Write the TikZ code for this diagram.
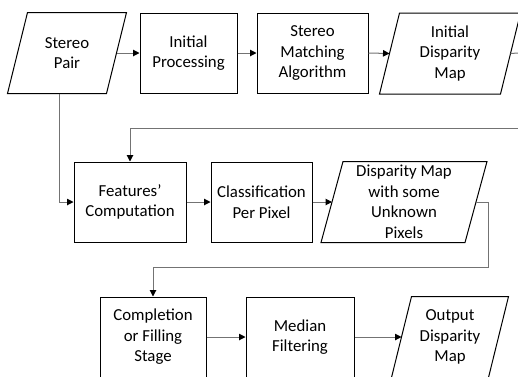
\documentclass[tikz,border=0pt]{standalone}
\usepackage{fontspec}
\setmainfont{Carlito}
\usetikzlibrary{arrows.meta,calc}
\begin{document}
\begin{tikzpicture}[x=1pt,y=-1pt,
  box/.style={draw=black,line width=1pt,minimum height=80pt,align=center,
    font=\fontsize{16.8}{20.5}\selectfont,inner sep=0pt},
  pbox/.style={box,draw=none},
  conn/.style={draw=black!55,line width=1pt,-{Triangle[length=6.5pt,width=6.5pt,color=black]}},
  plain/.style={draw=black!55,line width=1pt}]
\useasboundingbox (0,0) rectangle (518,376);
% row 1
\node[pbox,minimum width=98pt] (sp) at (67,53) {Stereo\\Pair};
\node[box,minimum width=97pt] (ip) at (188.5,53) {Initial\\Processing};
\node[box,minimum width=111pt] (sm) at (312.5,53) {Stereo\\Matching\\Algorithm};
\node[pbox,minimum width=120pt] (idm) at (450,53.5) {Initial\\Disparity\\Map};
% row 2
\node[box,minimum width=112pt] (fc) at (130,202) {Features’\\Computation};
\node[box,minimum width=101pt] (cp) at (261.5,202) {Classification\\Per Pixel};
\node[pbox,minimum width=143pt] (dmu) at (404,202) {Disparity Map\\with some\\Unknown\\Pixels};
% row 3
\node[box,minimum width=106pt] (cf) at (153,337) {Completion\\or Filling\\Stage};
\node[box,minimum width=108pt] (mf) at (300,337) {Median\\Filtering};
\node[pbox,minimum width=96pt] (odm) at (450,337) {Output\\Disparity\\Map};
% parallelogram outlines
\foreach \n/\s in {sp/10,idm/10,dmu/11,odm/10}
  \draw[line width=1pt] ([xshift=\s pt]\n.north west) -- ([xshift=\s pt]\n.north east)
    -- ([xshift=-\s pt]\n.south east) -- ([xshift=-\s pt]\n.south west) -- cycle;
% free ends
\coordinate (r1) at (518,53);
\coordinate (r2) at (518,128);
% connectors
\draw[conn] (sp.east) -- (ip.west);
\draw[conn] (ip.east) -- (sm.west);
\draw[conn] (sm.east) -- (idm.west);
\draw[plain] (idm.east) -- (r1);
\draw[conn] (r2) -- (fc.north |- r2) -- (fc.north);
\draw[conn] ([xshift=-8pt]sp.south) |- (fc.west);
\draw[conn] (fc.east) -- (cp.west);
\draw[conn] (cp.east) -- (dmu.west);
\draw[conn] (dmu.east) -- ++(12,0) |- ($(cf.north)+(0,-29)$) -- (cf.north);
\draw[conn] (cf.east) -- (mf.west);
\draw[conn] (mf.east) -- (odm.west);
\end{tikzpicture}
\end{document}
